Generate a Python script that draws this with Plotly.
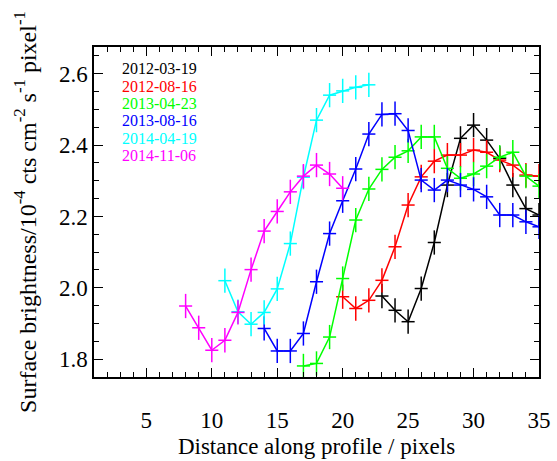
import plotly.graph_objects as go

dates = ["2012-03-19", "2012-08-16", "2013-04-23", "2013-08-16", "2014-04-19", "2014-11-06"]
colors = ["#000000", "#ff0000", "#00ff00", "#0000ff", "#00ffff", "#ff00ff"]

x_black = list(range(23, 36))
y_black = [1.977, 1.937, 1.905, 1.998, 2.127, 2.288, 2.419, 2.456, 2.414, 2.363, 2.288, 2.222, 2.204]

x_red = list(range(20, 36))
y_red = [1.975, 1.942, 1.965, 2.021, 2.115, 2.232, 2.311, 2.355, 2.372, 2.372, 2.386, 2.380, 2.358, 2.344, 2.316, 2.313]

x_green = list(range(17, 36))
y_green = [1.781, 1.788, 1.862, 2.026, 2.190, 2.277, 2.332, 2.366, 2.384, 2.423, 2.423, 2.335, 2.307, 2.319, 2.341, 2.366, 2.380, 2.313, 2.285]

x_blue = list(range(14, 36))
y_blue = [1.886, 1.823, 1.823, 1.872, 2.017, 2.152, 2.244, 2.333, 2.431, 2.486, 2.488, 2.441, 2.302, 2.274, 2.302, 2.288, 2.276, 2.255, 2.204, 2.204, 2.185, 2.171]

x_cyan = list(range(11, 23))
y_cyan = [2.020, 1.933, 1.898, 1.931, 1.997, 2.124, 2.310, 2.470, 2.540, 2.552, 2.562, 2.569]

x_magenta = list(range(8, 21))
y_magenta = [1.949, 1.888, 1.825, 1.853, 1.931, 2.051, 2.159, 2.214, 2.269, 2.313, 2.344, 2.319, 2.279]

x_err = 0.5
y_err = 0.034

series = [
    (x_black, y_black),
    (x_red, y_red),
    (x_green, y_green),
    (x_blue, y_blue),
    (x_cyan, y_cyan),
    (x_magenta, y_magenta),
]

FONT = "Liberation Serif"

fig = go.Figure()
for (xs, ys), name, col in zip(series, dates, colors):
    fig.add_trace(go.Scatter(
        x=xs, y=ys, mode="lines", name=name,
        line=dict(color=col, width=1.5),
        error_x=dict(type="constant", value=x_err, color=col, thickness=1.5, width=0),
        error_y=dict(type="constant", value=y_err, color=col, thickness=1.5, width=0),
        showlegend=False,
    ))

for i, (name, col) in enumerate(zip(dates, colors)):
    fig.add_annotation(
        xref="paper", yref="paper", x=0.058, y=0.934 - i * 0.0525,
        xanchor="left", yanchor="middle", showarrow=False,
        text=name, font=dict(family=FONT, size=16, color=col),
    )

axis_common = dict(
    showgrid=False, zeroline=False, showline=True, linecolor="black", linewidth=1.5,
    mirror="ticks", ticks="inside", ticklen=9, tickwidth=1.2, tickcolor="black",
    tickfont=dict(family=FONT, size=23, color="black"), automargin=False,
)

fig.update_xaxes(
    range=[1, 35], tick0=0, dtick=5,
    minor=dict(dtick=1, ticks="inside", ticklen=5, tickwidth=1.2, tickcolor="black"),
    title=dict(text="Distance along profile / pixels", font=dict(family=FONT, size=23, color="black"), standoff=6),
    ticklabelstandoff=22,
    **axis_common,
)
fig.update_yaxes(
    range=[1.75, 2.675], tick0=0, dtick=0.2, tickformat=".1f",
    minor=dict(dtick=0.05, ticks="inside", ticklen=5, tickwidth=1.2, tickcolor="black"),
    title=dict(text="Surface brightness/10<sup>-4</sup> cts cm<sup>-2</sup> s<sup>-1</sup> pixel<sup>-1</sup>",
               font=dict(family=FONT, size=24, color="black"), standoff=16),
    **axis_common,
)

fig.update_layout(
    width=557, height=461,
    margin=dict(l=94, r=18, t=47, b=84),
    plot_bgcolor="white", paper_bgcolor="white",
)

fig.write_html("out.html")
